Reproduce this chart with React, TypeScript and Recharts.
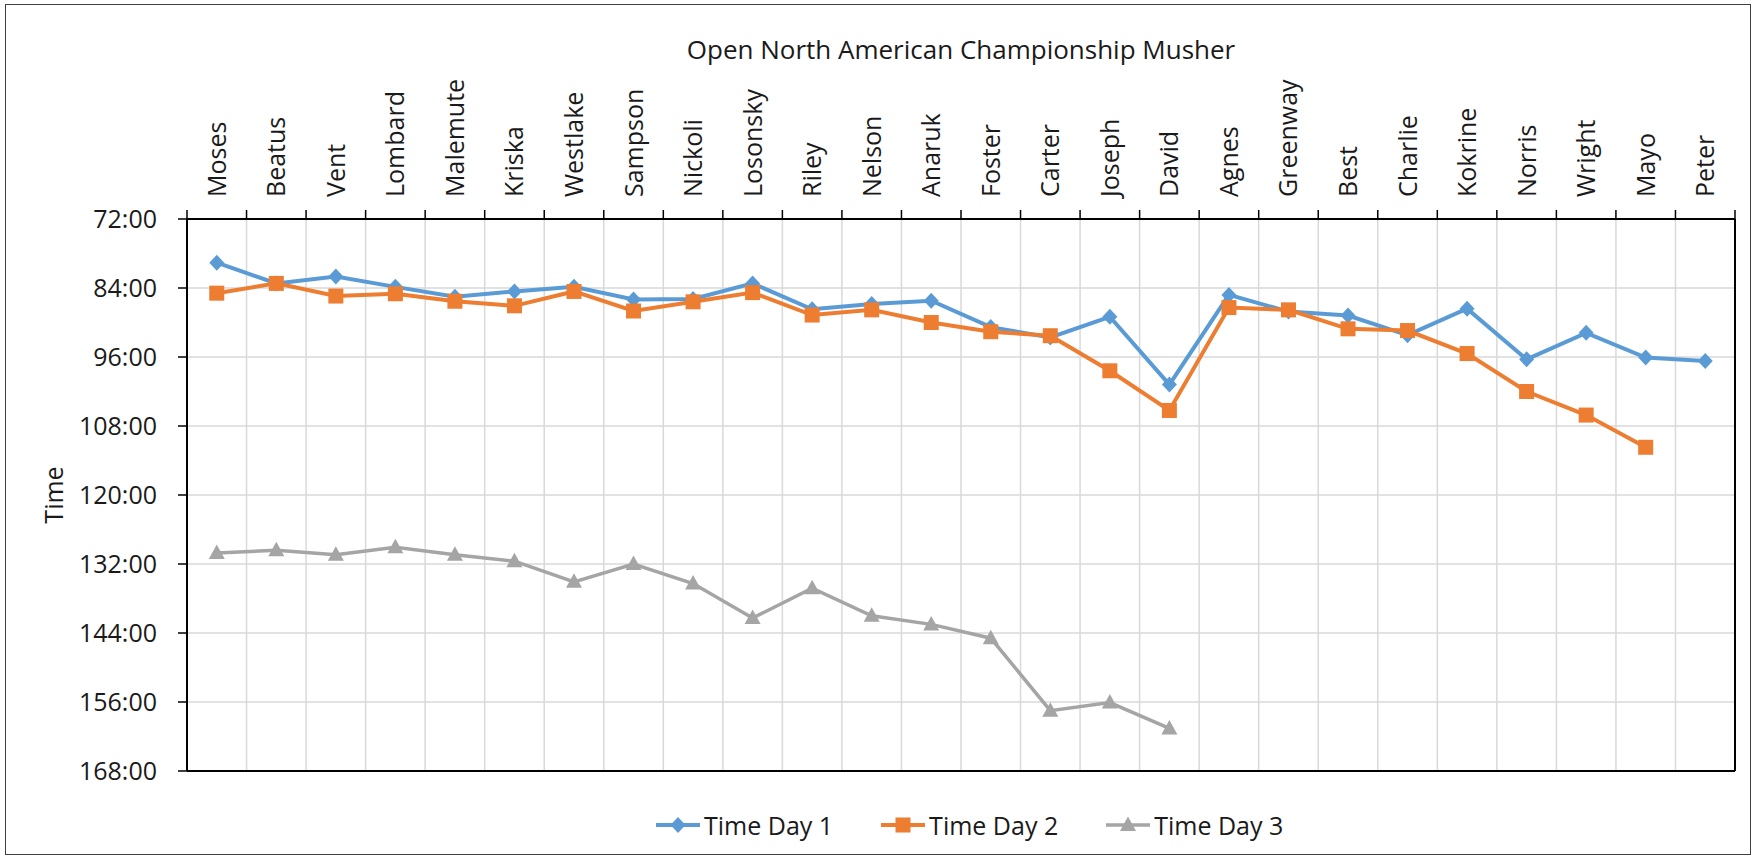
import React from 'react';
import { LineChart, Line, XAxis, YAxis, CartesianGrid, ReferenceLine } from 'recharts';

const MUSHERS = [
  'Moses', 'Beatus', 'Vent', 'Lombard', 'Malemute', 'Kriska', 'Westlake', 'Sampson', 'Nickoli',
  'Losonsky', 'Riley', 'Nelson', 'Anaruk', 'Foster', 'Carter', 'Joseph', 'David', 'Agnes',
  'Greenway', 'Best', 'Charlie', 'Kokrine', 'Norris', 'Wright', 'Mayo', 'Peter',
];

// times in hours (decimal)
const DAY1 = [79.6, 83.2, 82.0, 83.8, 85.5, 84.6, 83.8, 86.0, 85.9, 83.2, 87.7, 86.8, 86.2, 90.8, 92.6, 89.0, 100.8, 85.2, 88.1, 88.8, 92.2, 87.6, 96.4, 91.8, 96.1, 96.7];
const DAY2 = [84.9, 83.2, 85.4, 85.0, 86.3, 87.1, 84.6, 88.0, 86.4, 84.8, 88.7, 87.8, 90.0, 91.6, 92.3, 98.4, 105.3, 87.4, 87.8, 91.1, 91.4, 95.4, 102.0, 106.1, 111.7, null];
const DAY3 = [130.1, 129.6, 130.4, 129.1, 130.4, 131.5, 135.1, 132.0, 135.4, 141.4, 136.2, 141.0, 142.5, 144.9, 157.5, 156.1, 160.6, null, null, null, null, null, null, null, null, null];

const Y_TICKS = [72, 84, 96, 108, 120, 132, 144, 156, 168];

const SERIES = [
  { key: 'day1', name: 'Time Day 1', color: '#5b9bd5', shape: 'diamond', width: 4 },
  { key: 'day2', name: 'Time Day 2', color: '#ed7d31', shape: 'square', width: 4 },
  { key: 'day3', name: 'Time Day 3', color: '#a5a5a5', shape: 'triangle', width: 3.5 },
];

const FONT = '"Open Sans", sans-serif';
const TICK_SIZE = 9;
const TICK_MARGIN = 13;

const data = MUSHERS.map((m, i) => ({ idx: i, name: m, day1: DAY1[i], day2: DAY2[i], day3: DAY3[i] }));
const centers = MUSHERS.map((_, i) => i);
const bounds = [...MUSHERS.map((_, i) => i - 0.5), MUSHERS.length - 0.5];
const innerBounds = bounds.slice(1, -1);

function marker(shape: string, cx: number, cy: number, color: string, key?: any) {
  if (shape === 'diamond') {
    return <path key={key} d={`M${cx},${cy - 8}L${cx + 7.5},${cy}L${cx},${cy + 8}L${cx - 7.5},${cy}Z`} fill={color} />;
  }
  if (shape === 'square') {
    return <rect key={key} x={cx - 7.5} y={cy - 7.5} width={15} height={15} fill={color} />;
  }
  return <path key={key} d={`M${cx},${cy - 8.5}L${cx + 8},${cy + 6}L${cx - 8},${cy + 6}Z`} fill={color} />;
}

const makeDot = (shape: string, color: string) => (p: any) => {
  if (p.cx == null || p.cy == null || p.value == null) return <g key={p.index} />;
  return marker(shape, p.cx, p.cy, color, p.index);
};

function MusherTick(props: any) {
  const { x, y, payload } = props;
  const v = payload.value;
  if (Number.isInteger(v)) {
    return (
      <text x={x} y={y} dy="0.36em" transform={`rotate(-90 ${x} ${y})`} textAnchor="start"
        fontFamily={FONT} fontSize={25} fill="#1a1a1a">
        {MUSHERS[v]}
      </text>
    );
  }
  // boundary tick mark
  return <line x1={x} x2={x} y1={y + TICK_MARGIN} y2={y + TICK_MARGIN + TICK_SIZE} stroke="#000" strokeWidth={1.5} />;
}

export default function App() {
  return (
    <div style={{ position: 'absolute', left: 0, top: 0, width: 1760, height: 860, background: '#fff', fontFamily: FONT }}>
      <div style={{ position: 'absolute', left: 5, top: 4, width: 1746, height: 851, border: '1.5px solid #404040', boxSizing: 'border-box' }} />
      <div style={{ position: 'absolute', left: 187, width: 1548, top: 31, textAlign: 'center', fontSize: 26, color: '#1a1a1a', lineHeight: '36px' }}>
        Open North American Championship Musher
      </div>
      <div style={{ position: 'absolute', left: 53, top: 495, transform: 'translate(-50%, -50%) rotate(-90deg)', fontSize: 25, color: '#1a1a1a', lineHeight: '30px' }}>
        Time
      </div>
      <LineChart width={1760} height={860} data={data} margin={{ top: 70, right: 25, bottom: 89, left: 0 }}>
        <CartesianGrid horizontal vertical={false} stroke="#d9d9d9" strokeWidth={1.5} />
        <XAxis
          type="number"
          dataKey="idx"
          orientation="top"
          domain={[-0.5, MUSHERS.length - 0.5]}
          ticks={[...bounds, ...centers]}
          interval={0}
          allowDataOverflow
          height={149}
          tickSize={TICK_SIZE}
          tickMargin={TICK_MARGIN}
          tickLine={false}
          axisLine={{ stroke: '#000', strokeWidth: 2 }}
          tick={MusherTick}
        />
        <YAxis
          type="number"
          reversed
          domain={[72, 168]}
          ticks={Y_TICKS}
          interval={0}
          width={187}
          tickSize={TICK_SIZE}
          tickMargin={21}
          tickFormatter={(v: number) => `${v}:00`}
          tick={{ fontSize: 25, fill: '#1a1a1a', fontFamily: FONT }}
          tickLine={{ stroke: '#000', strokeWidth: 1.5 }}
          axisLine={{ stroke: '#000', strokeWidth: 2 }}
        />
        {innerBounds.map(b => (
          <ReferenceLine key={b} x={b} stroke="#d9d9d9" strokeWidth={1.5} />
        ))}
        <ReferenceLine y={168} stroke="#000" strokeWidth={2} />
        <ReferenceLine x={MUSHERS.length - 0.5} stroke="#000" strokeWidth={2} />
        {SERIES.map(s => (
          <Line
            key={s.key}
            type="linear"
            dataKey={s.key}
            name={s.name}
            stroke={s.color}
            strokeWidth={s.width}
            dot={makeDot(s.shape, s.color)}
            activeDot={false}
            connectNulls={false}
            isAnimationActive={false}
          />
        ))}
      </LineChart>
      <div style={{ position: 'absolute', left: 654, top: 808, display: 'flex', alignItems: 'center', gap: 46, fontSize: 25, color: '#1a1a1a' }}>
        {SERIES.map(s => (
          <div key={s.key} style={{ display: 'flex', alignItems: 'center' }}>
            <svg width={48} height={20}>
              <line x1={2} x2={46} y1={10} y2={10} stroke={s.color} strokeWidth={s.width} />
              {marker(s.shape, 24, 10, s.color)}
            </svg>
            <span style={{ marginLeft: 2, lineHeight: '34px' }}>{s.name}</span>
          </div>
        ))}
      </div>
    </div>
  );
}
